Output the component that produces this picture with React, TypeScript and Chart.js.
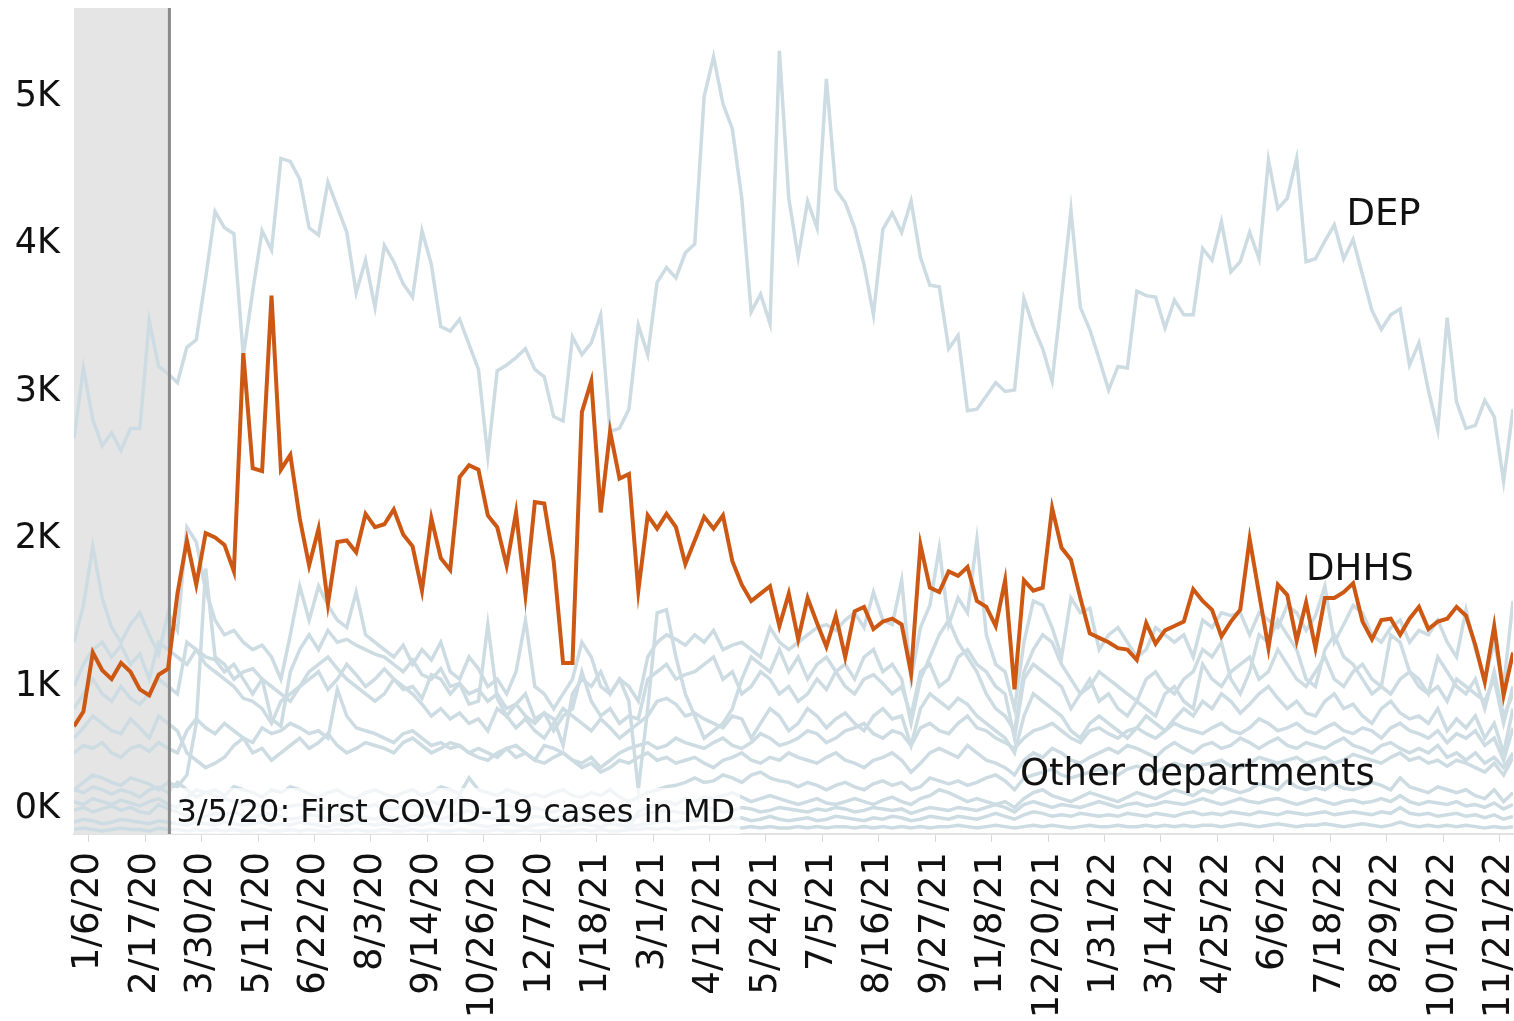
import React, { useEffect, useRef } from "react";
import { Chart, registerables } from "chart.js";

Chart.register(...registerables);

// ---- axis / annotation data ----
const TICK_LABELS = [
  "1/6/20", "2/17/20", "3/30/20", "5/11/20", "6/22/20", "8/3/20", "9/14/20",
  "10/26/20", "12/7/20", "1/18/21", "3/1/21", "4/12/21", "5/24/21", "7/5/21",
  "8/16/21", "9/27/21", "11/8/21", "12/20/21", "1/31/22", "3/14/22", "4/25/22",
  "6/6/22", "7/18/22", "8/29/22", "10/10/22", "11/21/22",
];
const TICK_STEP_DAYS = 42; // labels every 6 weeks, day 0 = 1/6/20
const FIRST_POINT_DAY = -11; // first weekly point, days relative to 1/6/20
const LAST_DAY = 1060;
const COVID_DAY = 60; // 3/5/20 line position
const Y_TICKS = [0, 1, 2, 3, 4, 5]; // thousands
const Y_MAX = 5.6;

// ---- series (thousands per week) ----
const DEP = [
  2.68, 3.16, 2.81, 2.63, 2.72, 2.60, 2.75, 2.75, 3.48, 3.17, 3.12,
  3.06, 3.30, 3.35, 3.77, 4.22, 4.11, 4.07, 3.24, 3.68, 4.09, 3.96,
  4.58, 4.56, 4.44, 4.11, 4.06, 4.42, 4.25, 4.08, 3.67, 3.89, 3.57,
  3.99, 3.88, 3.73, 3.64, 4.09, 3.86, 3.44, 3.41, 3.49, 3.32, 3.15,
  2.56, 3.14, 3.18, 3.23, 3.29, 3.15, 3.10, 2.83, 2.80, 3.37, 3.25,
  3.33, 3.52, 2.73, 2.75, 2.88, 3.45, 3.25, 3.74, 3.84, 3.77, 3.94,
  4.00, 5.00, 5.27, 4.95, 4.78, 4.31, 3.54, 3.66, 3.46, 5.31, 4.31,
  3.91, 4.29, 4.11, 5.12, 4.37, 4.28, 4.11, 3.86, 3.52, 4.10, 4.21,
  4.08, 4.29, 3.91, 3.72, 3.71, 3.29, 3.38, 2.87, 2.88, 2.97, 3.06,
  3.00, 3.01, 3.63, 3.44, 3.29, 3.07, 3.64, 4.23, 3.57, 3.42, 3.22,
  3.01, 3.17, 3.16, 3.68, 3.65, 3.64, 3.43, 3.62, 3.52, 3.52, 3.97,
  3.89, 4.15, 3.81, 3.88, 4.08, 3.90, 4.57, 4.24, 4.31, 4.58, 3.88,
  3.90, 4.02, 4.13, 3.90, 4.03, 3.79, 3.55, 3.42, 3.52, 3.56, 3.18,
  3.33, 3.01, 2.74, 3.50, 2.93, 2.75, 2.77, 2.94, 2.83, 2.39, 2.88,
];

const DHHS = [
  0.73, 0.83, 1.23, 1.11, 1.05, 1.16, 1.10, 0.98, 0.94, 1.08, 1.12,
  1.63, 1.99, 1.69, 2.04, 2.01, 1.96, 1.78, 3.26, 2.48, 2.46, 3.65,
  2.47, 2.57, 2.14, 1.82, 2.07, 1.56, 1.98, 1.99, 1.91, 2.17, 2.08,
  2.10, 2.20, 2.03, 1.95, 1.65, 2.14, 1.87, 1.79, 2.42, 2.50, 2.47,
  2.16, 2.08, 1.82, 2.18, 1.62, 2.25, 2.24, 1.85, 1.16, 1.16, 2.86,
  3.07, 2.18, 2.73, 2.41, 2.44, 1.65, 2.16, 2.07, 2.17, 2.08, 1.83,
  1.99, 2.15, 2.07, 2.16, 1.85, 1.69, 1.58, 1.63, 1.68, 1.41, 1.63,
  1.32, 1.60, 1.43, 1.27, 1.48, 1.20, 1.51, 1.54, 1.39, 1.44, 1.46,
  1.42, 1.09, 1.96, 1.67, 1.64, 1.78, 1.75, 1.81, 1.58, 1.54, 1.41,
  1.72, 0.98, 1.72, 1.65, 1.67, 2.21, 1.94, 1.86, 1.60, 1.36, 1.33,
  1.30, 1.26, 1.25, 1.18, 1.43, 1.29, 1.38, 1.41, 1.44, 1.66, 1.58,
  1.52, 1.34, 1.44, 1.52, 2.00, 1.63, 1.26, 1.69, 1.62, 1.31, 1.57,
  1.26, 1.60, 1.60, 1.64, 1.70, 1.44, 1.32, 1.45, 1.46, 1.35, 1.46,
  1.54, 1.39, 1.44, 1.46, 1.54, 1.48, 1.28, 1.03, 1.41, 0.94, 1.23,
];

const OTHER_A = [
  1.30, 1.55, 1.95, 1.60, 1.40, 1.30, 1.42, 1.50, 1.35, 1.22, 1.50,
  1.38, 2.08, 1.98, 1.65, 1.45, 1.35, 1.38, 1.30, 1.25, 1.28, 1.20,
  1.05, 1.35, 1.68, 1.45, 1.68, 1.55, 1.45, 1.40, 1.64, 1.35, 1.30,
  1.25, 1.20, 1.28, 1.15, 1.25, 1.18, 1.30, 1.10, 1.05, 1.20, 1.12,
  1.00, 1.05, 0.95, 1.10, 1.45, 1.00, 0.95, 0.85, 0.95, 1.05, 1.30,
  1.20, 1.00, 0.95, 1.05, 1.00, 0.90, 1.20, 1.30, 1.35, 1.32, 1.28,
  1.35, 1.30, 1.38, 1.25, 1.28, 1.30, 1.25, 1.20, 1.40, 1.30, 1.25,
  1.30, 1.35, 1.40, 1.42, 1.38, 1.45, 1.50, 1.40, 1.64, 1.45, 1.42,
  1.72, 1.05, 1.40, 1.55, 1.94, 1.42, 1.60, 1.50, 2.00, 1.35, 1.15,
  1.10, 0.85, 1.30, 1.58, 1.55, 1.40, 1.20, 1.60, 1.50, 1.53, 1.25,
  1.35, 1.40, 1.30, 1.20, 1.25, 1.40, 1.35, 1.30, 1.35, 1.20, 1.45,
  1.40, 1.50, 1.48, 1.50, 1.35, 1.50, 1.45, 1.40, 1.55, 1.50, 1.38,
  1.48, 1.68, 1.30, 1.42, 1.55, 1.50, 1.35, 1.30, 1.40, 1.45, 1.30,
  1.38, 1.35, 1.45, 1.30, 1.20, 1.52, 1.25, 1.05, 1.30, 1.00, 1.58,
];

const OTHER_B = [
  0.30, 0.35, 0.40, 0.38, 0.35, 0.33, 0.38, 0.36, 0.34, 0.30, 0.35,
  0.32, 0.40, 0.75, 1.80, 1.20, 1.15, 1.05, 1.10, 1.12, 1.05, 0.78,
  0.73, 1.10, 1.25, 1.35, 1.25, 1.38, 1.30, 1.32, 1.28, 1.25, 1.22,
  1.20, 1.15, 1.10, 1.18, 1.08, 1.05, 1.12, 1.00, 1.02, 0.95, 0.98,
  0.90, 0.95, 0.85, 0.88, 0.80, 0.75, 0.82, 0.78, 0.60, 0.95, 1.05,
  1.00, 1.10, 0.95, 1.05, 0.90, 0.30, 0.85, 1.50, 1.52, 1.20, 0.95,
  0.80, 0.65, 0.70, 0.75, 0.85, 1.05, 1.20, 1.15, 1.10, 1.25, 1.10,
  1.20, 1.05, 1.15, 1.20, 1.10, 1.15, 1.05, 1.20, 1.25, 1.10, 1.15,
  1.05, 0.75, 1.05, 1.20, 1.35, 1.45, 1.30, 1.20, 1.10, 0.95, 0.85,
  0.80, 0.70, 1.10, 1.25, 1.35, 1.30, 1.15, 1.05, 0.95, 1.00, 1.10,
  1.05, 1.00, 0.95, 0.90, 1.05, 1.10, 1.00, 0.95, 1.05, 1.10, 1.25,
  1.20, 1.30, 1.05, 0.95, 1.10, 1.35, 1.30, 1.45, 1.35, 1.25, 1.05,
  1.00, 1.25, 1.35, 1.20, 1.15, 1.05, 0.95, 1.00, 1.35, 1.30, 1.10,
  1.05, 0.95, 1.20, 1.10, 1.00, 0.95, 1.05, 0.85, 1.10, 0.80, 0.95,
];

const OTHER_C = [
  1.00, 1.15, 1.25, 1.30, 1.20, 1.28, 1.15, 1.22, 1.05, 1.30, 1.25,
  1.20, 1.15, 1.25, 1.20, 1.18, 1.10, 1.15, 1.05, 0.95, 1.05, 1.00,
  0.95, 0.90, 1.00, 1.05, 1.10, 0.98, 1.05, 1.15, 1.08, 1.00, 1.05,
  1.12, 1.05, 0.98, 1.00, 0.92, 1.08, 1.05, 0.95, 1.02, 0.88, 0.90,
  1.42, 0.92, 0.80, 0.88, 0.95, 0.78, 0.82, 0.70, 0.80, 0.85, 1.10,
  0.90, 0.80, 0.85, 0.75, 0.80, 0.78, 1.05, 1.10, 1.15, 1.05, 1.08,
  1.10, 1.15, 1.20, 1.05, 1.10, 0.95, 1.00, 1.10, 1.05, 0.95, 1.00,
  0.90, 0.95, 1.05, 0.98, 1.10, 1.00, 0.95, 1.05, 1.08, 1.02, 0.95,
  1.00, 0.80, 1.10, 1.15, 1.00, 1.05, 1.20, 1.25, 1.15, 1.10, 1.00,
  0.95, 0.65, 1.05, 1.15, 1.10, 1.05, 1.00, 0.85, 0.95, 1.05, 0.90,
  0.95, 0.85, 0.80, 0.90, 0.85, 0.80, 0.95, 1.00, 0.90, 0.85, 1.15,
  1.05, 1.00, 1.10, 1.15, 1.20, 1.05, 1.10, 1.25, 1.15, 1.05, 1.00,
  1.10, 1.20, 1.05, 1.00, 1.10, 1.15, 1.05, 1.00, 0.95, 1.05, 1.10,
  1.00, 0.95, 1.00, 0.90, 1.05, 1.00, 0.95, 0.90, 1.05, 0.75, 1.00,
];

const OTHER_D = [
  0.85, 0.95, 1.05, 0.95, 0.90, 1.00, 0.92, 0.88, 0.95, 1.05, 1.00,
  0.95, 1.30, 1.25, 1.15, 1.10, 1.05, 1.00, 0.92, 0.90, 0.85, 0.75,
  0.90, 0.95, 1.00, 1.10, 1.15, 1.20, 1.12, 1.05, 1.00, 0.95, 0.90,
  0.95, 1.05, 1.00, 0.95, 0.88, 0.80, 0.85, 0.78, 0.82, 0.75, 0.78,
  0.70, 0.85, 0.80, 0.72, 0.78, 0.70, 0.65, 0.75, 0.85, 0.80, 0.75,
  0.70, 0.78, 0.72, 0.65, 0.70, 0.75, 0.80, 0.90, 0.92, 0.88, 0.80,
  0.82, 0.78, 0.75, 0.72, 0.80, 0.78, 0.65, 0.75, 0.85, 0.80, 0.70,
  0.75, 0.85, 0.80, 0.72, 0.78, 0.82, 0.75, 0.70, 0.80, 0.85, 0.78,
  0.80, 0.60, 0.85, 0.95, 0.90, 0.85, 0.92, 0.88, 0.80, 0.75, 0.70,
  0.65, 0.55, 0.80, 0.95, 0.90, 0.85, 0.80, 0.70, 0.65, 0.75, 0.80,
  0.75, 0.70, 0.65, 0.72, 0.80, 0.75, 0.70, 0.78, 0.85, 0.80, 0.90,
  0.85, 0.95, 0.90, 0.82, 0.88, 0.95, 1.00, 0.92, 0.85, 0.90, 0.82,
  0.80, 0.90, 0.95, 0.85, 0.88, 0.80, 0.75, 0.85, 0.90, 0.82, 0.78,
  0.80, 0.75, 0.85, 0.70, 0.78, 0.72, 0.80, 0.65, 0.75, 0.55, 0.85,
];

const OTHER_E = [
  0.65, 0.72, 0.80, 0.75, 0.70, 0.68, 0.78, 0.72, 0.65, 0.80, 0.75,
  0.70, 0.55, 0.50, 0.45, 0.48, 0.52, 0.60, 0.65, 0.55, 0.58, 0.50,
  0.55, 0.60, 0.65, 0.58, 0.62, 0.68, 0.60, 0.55, 0.58, 0.62, 0.60,
  0.58, 0.55, 0.62, 0.65, 0.60, 0.55, 0.58, 0.62, 0.60, 0.55, 0.52,
  0.50, 0.55, 0.58, 0.52, 0.55, 0.50, 0.60, 0.58, 0.55, 0.50, 0.48,
  0.52, 0.45, 0.50, 0.55, 0.58, 0.60, 0.62, 0.58, 0.60, 0.65, 0.62,
  0.60, 0.58, 0.62, 0.65, 0.60, 0.58, 0.62, 0.68, 0.65, 0.60, 0.62,
  0.65, 0.70, 0.68, 0.62, 0.65, 0.70, 0.72, 0.75, 0.68, 0.65, 0.70,
  0.68, 0.60, 0.72, 0.75, 0.70, 0.68, 0.75, 0.80, 0.72, 0.70, 0.65,
  0.62, 0.58, 0.65, 0.70, 0.72, 0.75, 0.70, 0.65, 0.62, 0.70, 0.72,
  0.68, 0.65, 0.70, 0.72, 0.68, 0.65, 0.70, 0.75, 0.72, 0.70, 0.68,
  0.72, 0.75, 0.70, 0.68, 0.72, 0.78, 0.75, 0.70, 0.72, 0.75, 0.70,
  0.68, 0.72, 0.75, 0.70, 0.68, 0.72, 0.70, 0.65, 0.72, 0.75, 0.70,
  0.68, 0.65, 0.70, 0.62, 0.68, 0.65, 0.70, 0.60, 0.65, 0.50, 0.72,
];

const OTHER_F = [
  0.55, 0.60, 0.58, 0.62, 0.55, 0.52, 0.58, 0.60, 0.56, 0.62, 0.58,
  0.55, 0.70, 0.78, 0.72, 0.68, 0.75, 0.70, 0.65, 0.62, 0.72, 0.68,
  0.70, 0.75, 0.72, 0.68, 0.70, 0.65, 0.98, 0.80, 0.72, 0.70, 0.68,
  0.65, 0.62, 0.68, 0.70, 0.65, 0.60, 0.62, 0.58, 0.60, 0.55, 0.58,
  0.55, 0.52, 0.58, 0.60, 0.55, 0.50, 0.48, 0.52, 0.55, 0.50, 0.45,
  0.48, 0.42, 0.45, 0.50, 0.48, 0.52, 0.55, 0.50, 0.52, 0.48, 0.50,
  0.52, 0.48, 0.45, 0.50, 0.52, 0.55, 0.50, 0.48, 0.52, 0.50, 0.55,
  0.52, 0.50, 0.48, 0.52, 0.55, 0.50, 0.48, 0.45, 0.50, 0.52, 0.55,
  0.50, 0.42, 0.48, 0.55, 0.58, 0.55, 0.52, 0.60, 0.55, 0.50, 0.48,
  0.45, 0.40, 0.50, 0.55, 0.52, 0.58, 0.55, 0.50, 0.48, 0.52, 0.55,
  0.58, 0.55, 0.60, 0.58, 0.55, 0.52, 0.58, 0.62, 0.58, 0.55, 0.60,
  0.62, 0.58, 0.60, 0.65, 0.62, 0.58, 0.62, 0.65, 0.60, 0.58, 0.62,
  0.60, 0.58, 0.62, 0.65, 0.60, 0.58, 0.55, 0.60, 0.62, 0.58, 0.55,
  0.58, 0.55, 0.60, 0.52, 0.55, 0.50, 0.55, 0.48, 0.52, 0.45, 0.55,
];

const OTHER_G = [
  0.30, 0.28, 0.32, 0.30, 0.27, 0.30, 0.28, 0.25, 0.30, 0.32, 0.28,
  0.35, 0.30, 0.25, 0.28, 0.30, 0.26, 0.32, 0.30, 0.28, 0.25, 0.30,
  0.28, 0.32, 0.30, 0.27, 0.25, 0.28, 0.30, 0.26, 0.24, 0.28, 0.30,
  0.27, 0.25, 0.28, 0.30, 0.26, 0.28, 0.32, 0.30, 0.27, 0.38, 0.30,
  0.28, 0.26, 0.30, 0.28, 0.25, 0.27, 0.25, 0.28, 0.30, 0.26, 0.25,
  0.28, 0.26, 0.30, 0.25, 0.22, 0.25, 0.28, 0.30, 0.32, 0.33, 0.35,
  0.38, 0.35, 0.36, 0.40, 0.38, 0.35, 0.40, 0.42, 0.38, 0.36, 0.35,
  0.32, 0.35, 0.33, 0.30, 0.33, 0.35, 0.32, 0.30, 0.34, 0.36, 0.33,
  0.35, 0.30, 0.32, 0.38, 0.36, 0.34, 0.36, 0.33, 0.35, 0.38, 0.40,
  0.36, 0.30, 0.38, 0.40, 0.42, 0.44, 0.40, 0.38, 0.40, 0.42, 0.44,
  0.42, 0.40, 0.44, 0.46, 0.44, 0.42, 0.45, 0.48, 0.46, 0.44, 0.47,
  0.48, 0.50, 0.46, 0.45, 0.48, 0.52, 0.50, 0.48, 0.50, 0.52, 0.48,
  0.50, 0.52, 0.48, 0.50, 0.54, 0.52, 0.50, 0.48, 0.52, 0.55, 0.50,
  0.52, 0.48, 0.50, 0.46, 0.50, 0.48, 0.45, 0.42, 0.48, 0.40, 0.52,
];

const OTHER_H = [
  0.22, 0.20, 0.24, 0.22, 0.20, 0.23, 0.21, 0.19, 0.22, 0.24, 0.20,
  0.18, 0.25, 0.30, 0.28, 0.26, 0.24, 0.22, 0.20, 0.21, 0.19, 0.18,
  0.17, 0.19, 0.20, 0.18, 0.16, 0.18, 0.20, 0.19, 0.17, 0.18, 0.20,
  0.18, 0.17, 0.19, 0.20, 0.18, 0.22, 0.20, 0.18, 0.26, 0.20, 0.18,
  0.16, 0.18, 0.20, 0.17, 0.15, 0.18, 0.16, 0.15, 0.17, 0.16, 0.18,
  0.17, 0.15, 0.16, 0.18, 0.04, 0.15, 0.18, 0.20, 0.22, 0.20, 0.24,
  0.22, 0.25, 0.24, 0.26, 0.28, 0.25, 0.22, 0.24, 0.26, 0.24, 0.22,
  0.20, 0.22, 0.24, 0.21, 0.20, 0.22, 0.24, 0.22, 0.20, 0.23, 0.25,
  0.22, 0.20, 0.24, 0.26, 0.30, 0.28, 0.25, 0.22, 0.24, 0.22, 0.20,
  0.22, 0.18, 0.24, 0.28, 0.30, 0.26, 0.24, 0.22, 0.25, 0.28, 0.26,
  0.24, 0.22, 0.25, 0.28, 0.26, 0.24, 0.27, 0.30, 0.28, 0.26, 0.30,
  0.28, 0.32, 0.30, 0.28, 0.30, 0.34, 0.32, 0.30, 0.36, 0.32, 0.30,
  0.32, 0.30, 0.34, 0.31, 0.30, 0.32, 0.35, 0.33, 0.30, 0.38, 0.32,
  0.30, 0.28, 0.32, 0.30, 0.28, 0.30, 0.26, 0.24, 0.30, 0.22, 0.28,
];

const OTHER_I = [
  0.16, 0.18, 0.15, 0.17, 0.19, 0.16, 0.18, 0.15, 0.14, 0.20, 0.17,
  0.15, 0.12, 0.10, 0.12, 0.14, 0.13, 0.15, 0.12, 0.11, 0.13, 0.14,
  0.12, 0.10, 0.11, 0.13, 0.12, 0.10, 0.12, 0.14, 0.12, 0.11, 0.10,
  0.12, 0.11, 0.10, 0.12, 0.13, 0.11, 0.10, 0.12, 0.14, 0.16, 0.12,
  0.11, 0.10, 0.12, 0.11, 0.10, 0.12, 0.11, 0.10, 0.12, 0.11, 0.10,
  0.12, 0.10, 0.11, 0.12, 0.10, 0.12, 0.14, 0.15, 0.16, 0.15, 0.14,
  0.16, 0.18, 0.17, 0.15, 0.16, 0.18, 0.17, 0.15, 0.16, 0.18, 0.17,
  0.16, 0.15, 0.17, 0.16, 0.18, 0.17, 0.15, 0.16, 0.18, 0.17, 0.16,
  0.17, 0.14, 0.16, 0.18, 0.17, 0.16, 0.18, 0.17, 0.16, 0.18, 0.20,
  0.18, 0.15, 0.20, 0.22, 0.20, 0.18, 0.20, 0.19, 0.18, 0.20, 0.22,
  0.20, 0.18, 0.20, 0.21, 0.19, 0.20, 0.22, 0.21, 0.20, 0.22, 0.24,
  0.22, 0.20, 0.22, 0.24, 0.22, 0.21, 0.23, 0.24, 0.22, 0.20, 0.22,
  0.24, 0.22, 0.20, 0.22, 0.23, 0.21, 0.22, 0.24, 0.22, 0.26, 0.22,
  0.20, 0.22, 0.21, 0.20, 0.22, 0.19, 0.20, 0.18, 0.21, 0.17, 0.20,
];

const OTHER_J = [
  0.08, 0.10, 0.09, 0.07, 0.08, 0.10, 0.09, 0.08, 0.07, 0.09, 0.08,
  0.07, 0.06, 0.08, 0.07, 0.06, 0.08, 0.07, 0.06, 0.07, 0.08, 0.06,
  0.07, 0.06, 0.08, 0.07, 0.06, 0.05, 0.07, 0.06, 0.08, 0.07, 0.06,
  0.07, 0.06, 0.05, 0.07, 0.06, 0.08, 0.07, 0.06, 0.09, 0.07, 0.06,
  0.05, 0.06, 0.07, 0.06, 0.05, 0.06, 0.07, 0.06, 0.05, 0.06, 0.07,
  0.06, 0.05, 0.07, 0.06, 0.05, 0.06, 0.07, 0.08, 0.09, 0.08, 0.10,
  0.09, 0.10, 0.08, 0.09, 0.10, 0.11, 0.09, 0.10, 0.12, 0.10, 0.09,
  0.10, 0.11, 0.09, 0.10, 0.12, 0.11, 0.10, 0.09, 0.11, 0.10, 0.12,
  0.11, 0.09, 0.10, 0.12, 0.11, 0.10, 0.12, 0.11, 0.10, 0.12, 0.14,
  0.12, 0.10, 0.13, 0.15, 0.14, 0.12, 0.13, 0.12, 0.14, 0.13, 0.12,
  0.13, 0.12, 0.14, 0.13, 0.12, 0.14, 0.13, 0.12, 0.14, 0.15, 0.13,
  0.14, 0.13, 0.15, 0.14, 0.13, 0.15, 0.14, 0.13, 0.15, 0.14, 0.13,
  0.14, 0.15, 0.13, 0.14, 0.15, 0.14, 0.13, 0.15, 0.14, 0.18, 0.14,
  0.13, 0.14, 0.12, 0.13, 0.14, 0.12, 0.13, 0.11, 0.13, 0.10, 0.12,
];

const OTHER_K = [
  0.03, 0.04, 0.03, 0.02, 0.03, 0.04, 0.03, 0.03, 0.02, 0.04, 0.03,
  0.03, 0.02, 0.03, 0.02, 0.03, 0.02, 0.03, 0.02, 0.02, 0.03, 0.02,
  0.02, 0.03, 0.02, 0.03, 0.02, 0.02, 0.03, 0.02, 0.03, 0.02, 0.02,
  0.03, 0.02, 0.02, 0.03, 0.02, 0.03, 0.02, 0.02, 0.03, 0.02, 0.02,
  0.02, 0.03, 0.02, 0.02, 0.03, 0.02, 0.02, 0.03, 0.02, 0.02, 0.03,
  0.02, 0.03, 0.02, 0.02, 0.03, 0.03, 0.04, 0.03, 0.04, 0.03, 0.04,
  0.04, 0.05, 0.04, 0.04, 0.05, 0.04, 0.05, 0.04, 0.05, 0.04, 0.04,
  0.05, 0.04, 0.05, 0.04, 0.05, 0.05, 0.04, 0.05, 0.04, 0.05, 0.04,
  0.05, 0.04, 0.05, 0.04, 0.05, 0.05, 0.06, 0.05, 0.04, 0.05, 0.06,
  0.05, 0.04, 0.05, 0.06, 0.05, 0.06, 0.05, 0.04, 0.05, 0.06, 0.05,
  0.05, 0.06, 0.05, 0.05, 0.06, 0.05, 0.06, 0.05, 0.06, 0.05, 0.06,
  0.06, 0.05, 0.06, 0.07, 0.06, 0.05, 0.06, 0.07, 0.06, 0.05, 0.06,
  0.06, 0.07, 0.06, 0.05, 0.06, 0.07, 0.06, 0.05, 0.06, 0.08, 0.06,
  0.05, 0.06, 0.05, 0.06, 0.05, 0.06, 0.05, 0.04, 0.05, 0.04, 0.05,
];

const OTHER_SERIES = [OTHER_A, OTHER_B, OTHER_C, OTHER_D, OTHER_E, OTHER_F, OTHER_G, OTHER_H, OTHER_I, OTHER_J, OTHER_K];

const SERIES_LABELS = [
  { text: "DEP", day: 936, value: 4.13 },
  { text: "DHHS", day: 906, value: 1.72 },
  { text: "Other departments", day: 693, value: 0.33 },
];
const ANNOTATION_TEXT = "3/5/20: First COVID-19 cases in MD";

const FONT = '"DejaVu Sans", "Liberation Sans", sans-serif';
const ORANGE = "#cc5814";
const GREY_LINE = "#cddce2";
const TEXT = "#111111";

const toPoints = (vals: number[]) =>
  vals.map((v, i) => ({ x: FIRST_POINT_DAY + 7 * i, y: v }));

const decorPlugin = {
  id: "decor",
  beforeDatasetsDraw(chart: any) {
    const { ctx, chartArea: a, scales } = chart;
    const cx = scales.x.getPixelForValue(COVID_DAY);
    ctx.save();
    ctx.fillStyle = "#e5e5e5";
    ctx.fillRect(a.left, a.top, cx - a.left, a.bottom - a.top);
    ctx.restore();
  },
  beforeDatasetDraw(chart: any, args: any) {
    if (args.index !== 0) return;
    const { ctx, chartArea: a, scales } = chart;
    const cx = scales.x.getPixelForValue(COVID_DAY);
    ctx.save();
    ctx.strokeStyle = "#8a8a8a";
    ctx.lineWidth = 3;
    ctx.beginPath();
    ctx.moveTo(cx, a.top);
    ctx.lineTo(cx, a.bottom);
    ctx.stroke();
    ctx.restore();
  },
  afterDatasetsDraw(chart: any) {
    const { ctx, chartArea: a, scales } = chart;
    const x = scales.x;
    const y = scales.y;
    const cx = x.getPixelForValue(COVID_DAY);
    ctx.save();
    // annotation with translucent backing
    ctx.font = `32px ${FONT}`;
    const tw = ctx.measureText(ANNOTATION_TEXT).width;
    const tx = cx + 7;
    const baseY = a.bottom - 12;
    ctx.fillStyle = "rgba(255,255,255,0.72)";
    ctx.fillRect(cx + 2, baseY - 34, tw + 10, a.bottom - (baseY - 34));
    ctx.fillStyle = TEXT;
    ctx.textAlign = "left";
    ctx.textBaseline = "alphabetic";
    ctx.fillText(ANNOTATION_TEXT, tx, baseY);
    // series labels
    ctx.font = `37px ${FONT}`;
    for (const l of SERIES_LABELS) {
      ctx.fillText(l.text, x.getPixelForValue(l.day), y.getPixelForValue(l.value));
    }
    ctx.restore();
  },
  afterDraw(chart: any) {
    const { ctx, chartArea: a, scales } = chart;
    const y = scales.y;
    ctx.save();
    ctx.font = `35px ${FONT}`;
    ctx.fillStyle = TEXT;
    ctx.textAlign = "right";
    ctx.textBaseline = "middle";
    for (const v of Y_TICKS) {
      const py = Math.min(y.getPixelForValue(v), a.bottom - 25);
      ctx.fillText(`${v}K`, a.left - 14, py);
    }
    ctx.restore();
  },
};

export default function App() {
  const ref = useRef<HTMLCanvasElement | null>(null);

  useEffect(() => {
    if (!ref.current) return;
    const datasets: any[] = [
      {
        label: "DHHS",
        data: toPoints(DHHS),
        borderColor: ORANGE,
        borderWidth: 4,
        pointRadius: 0,
        tension: 0,
      },
      {
        label: "DEP",
        data: toPoints(DEP),
        borderColor: GREY_LINE,
        borderWidth: 3.5,
        pointRadius: 0,
        tension: 0,
      },
      ...OTHER_SERIES.map((s, k) => ({
        label: `Other ${k + 1}`,
        data: toPoints(s),
        borderColor: GREY_LINE,
        borderWidth: 3.5,
        pointRadius: 0,
        tension: 0,
      })),
    ];

    const chart = new Chart(ref.current, {
      type: "line",
      data: { datasets },
      options: {
        animation: false,
        responsive: false,
        devicePixelRatio: 1,
        events: [],
        layout: { padding: { top: 8, right: 1, left: 0, bottom: 0 } },
        plugins: { legend: { display: false }, tooltip: { enabled: false } },
        scales: {
          x: {
            type: "linear",
            min: FIRST_POINT_DAY,
            max: LAST_DAY,
            afterBuildTicks: (scale: any) => {
              scale.ticks = TICK_LABELS.map((_, k) => ({ value: k * TICK_STEP_DAYS }));
            },
            afterFit: (scale: any) => {
              scale.height = 187;
              scale.paddingLeft = 0;
              scale.paddingRight = 0;
            },
            ticks: {
              autoSkip: false,
              maxRotation: 90,
              minRotation: 90,
              padding: 10,
              color: TEXT,
              font: { family: FONT, size: 37 },
              callback: (v: any) => TICK_LABELS[Math.round(Number(v) / TICK_STEP_DAYS)] ?? "",
            },
            grid: {
              display: true,
              drawOnChartArea: false,
              drawTicks: true,
              tickLength: 8,
              color: "#d9d9d9",
              lineWidth: 1,
            },
            border: { display: true, color: "#e2e2e2", width: 2 },
          },
          y: {
            min: 0,
            max: Y_MAX,
            afterFit: (scale: any) => {
              scale.width = 74;
              scale.paddingTop = 0;
              scale.paddingBottom = 0;
            },
            ticks: { display: false },
            grid: { display: false },
            border: { display: false },
          },
        },
      },
      plugins: [decorPlugin],
    } as any);

    return () => chart.destroy();
  }, []);

  return (
    <div style={{ position: "fixed", left: 0, top: 0, width: 1514, height: 1021, background: "#ffffff" }}>
      <canvas ref={ref} width={1514} height={1021} style={{ display: "block" }} />
    </div>
  );
}
